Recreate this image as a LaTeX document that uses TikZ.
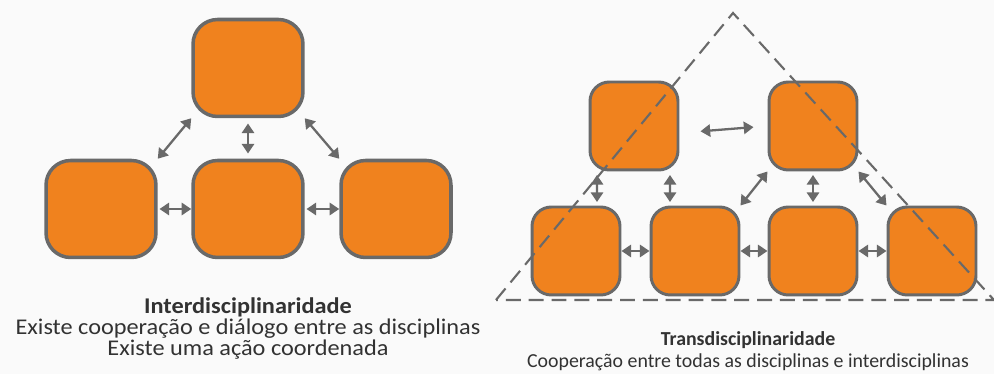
\documentclass[tikz,border=0pt]{standalone}
\usepackage{fontspec}
\setmainfont{Carlito}
\newfontfamily\widefont[FakeStretch=1.08]{Carlito}
\usepackage{xcolor}
\usetikzlibrary{arrows, arrows.meta}
\definecolor{discorange}{RGB}{240,130,30}
\definecolor{discgray}{RGB}{105,105,105}
\definecolor{textgray}{RGB}{50,50,50}

\begin{document}
\begin{tikzpicture}[x=0.02cm, y=-0.02cm,
    disc/.style={draw=discgray, fill=discorange, line width=2pt, rounded corners=14pt, minimum width=2.2cm, minimum height=1.94cm, inner sep=0pt},
    discsmall/.style={disc, line width=1.7pt, rounded corners=11pt, minimum width=1.76cm, minimum height=1.76cm},
    link/.style={discgray, line width=1.3pt, {Triangle[length=5.5pt,width=7pt]}-{Triangle[length=5.5pt,width=7pt]}},
    caption/.style={text=textgray, inner sep=0pt}]
    \useasboundingbox[fill=black!2] (0,0) rectangle (994,374);
    \node[disc] (top) at (248,68) {};
    \node[disc] (left) at (101,209) {};
    \node[disc] (mid) at (248,209) {};
    \node[disc] (right) at (396,209) {};
    \draw[link] (left.north east) -- (top.south west);
    \draw[link, shorten <=3pt, shorten >=3pt] (top.south) -- (mid.north);
    \draw[link] (top.south east) -- (right.north west);
    \draw[link, shorten <=1pt] (left.east) -- (mid.west);
    \draw[link, shorten <=1pt] (mid.east) -- (right.west);
    \node[caption, font=\widefont\fontsize{12.8}{16}\selectfont\bfseries] (intertitle) at (248,307) {Interdisciplinaridade};
    \node[caption, font=\widefont\fontsize{12.8}{11.8}\selectfont, align=center] (intertext) at (248,339) {Existe cooperação e diálogo entre as disciplinas\\Existe uma ação coordenada};

    \node[discsmall] (ul) at (634,126) {};
    \node[discsmall] (ur) at (813,126) {};
    \node[discsmall] (d1) at (576,251) {};
    \node[discsmall] (d2) at (695,251) {};
    \node[discsmall] (d3) at (813,251) {};
    \node[discsmall] (d4) at (932,251) {};
    \draw[discgray, line width=1.2pt, dash pattern=on 8.5pt off 4.5pt] (496,300) -- (733,13) -- (994,300) -- cycle;
    \draw[link, shorten <=12pt, shorten >=8pt] ([yshift=-0.14cm]ul.east) -- (ur.west);
    \draw[link, shorten <=2pt, shorten >=2pt] ([xshift=-0.74cm]ul.south) -- ([xshift=0.42cm]d1.north);
    \draw[link, shorten <=2pt, shorten >=2pt] ([xshift=0.72cm]ul.south) -- ([xshift=-0.5cm]d2.north);
    \draw[link] (d2.north east) -- (ur.south west);
    \draw[link, shorten <=2pt, shorten >=2pt] (ur.south) -- (d3.north);
    \draw[link] (ur.south east) -- (d4.north west);
    \draw[link] (d1.east) -- (d2.west);
    \draw[link] (d2.east) -- (d3.west);
    \draw[link] (d3.east) -- (d4.west);
    \node[caption, font=\fontsize{11.3}{13}\selectfont\bfseries] (transtitle) at (748,340) {Transdisciplinaridade};
    \node[caption, font=\fontsize{11.3}{13}\selectfont] (transtext) at (748,362) {Cooperação entre todas as disciplinas e interdisciplinas};
\end{tikzpicture}
\end{document}
